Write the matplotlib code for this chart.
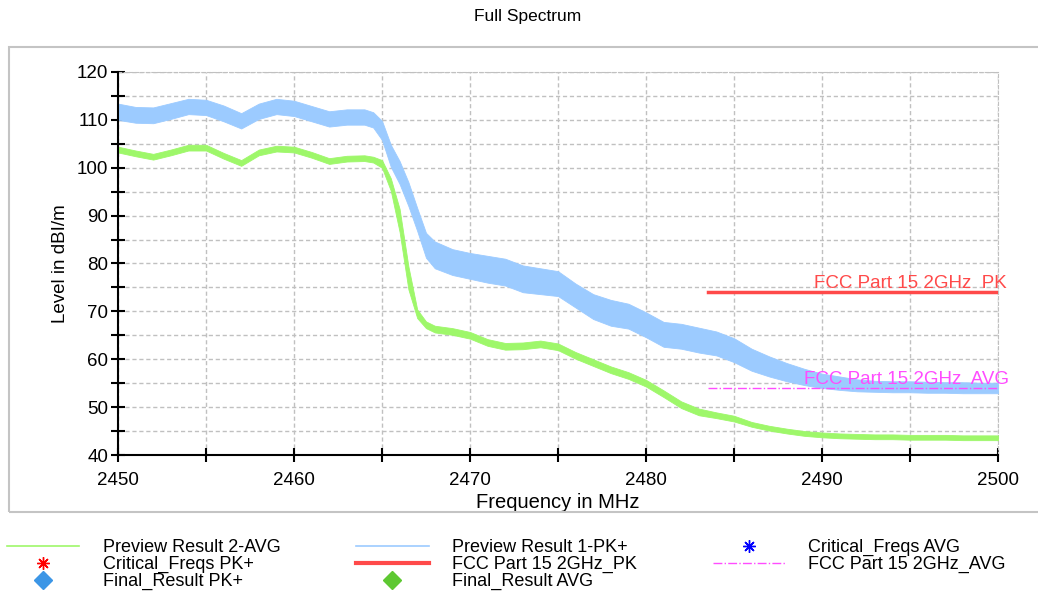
import matplotlib
matplotlib.use("Agg")
import matplotlib.pyplot as plt
from matplotlib.lines import Line2D
from matplotlib.patches import Rectangle

plt.rcParams['font.family'] = ['Liberation Sans', 'DejaVu Sans']

# frequenze (MHz)
freq = [2450, 2451, 2452, 2453, 2454, 2455, 2456, 2457, 2458, 2459,
        2460, 2461, 2462, 2463, 2464, 2464.5, 2465, 2465.5, 2466, 2466.5,
        2467, 2467.5, 2468, 2469, 2470, 2471, 2472, 2473, 2474, 2475,
        2476, 2477, 2478, 2479, 2480, 2481, 2482, 2483, 2484, 2485,
        2486, 2487, 2488, 2489, 2490, 2491, 2492, 2493, 2494, 2495,
        2496, 2497, 2498, 2499, 2500]

# Preview Result 1-PK+ : bordo inferiore / superiore della traccia
pk_low = [110.0, 109.4, 109.3, 110.2, 111.2, 111.0, 109.7, 108.2, 110.2, 111.2,
          110.8, 109.7, 108.6, 109.0, 109.0, 108.4, 105.8, 100.2, 96.6, 92.0,
          86.8, 81.2, 79.0, 77.6, 76.8, 76.0, 75.4, 74.0, 73.6, 73.2,
          70.8, 68.4, 67.0, 66.4, 64.6, 62.6, 62.2, 61.4, 60.8, 59.4,
          57.6, 56.4, 55.4, 54.6, 54.0, 53.6, 53.3, 53.2, 53.1, 53.1,
          53.0, 53.0, 52.9, 52.9, 52.9]
pk_high = [113.4, 112.7, 112.6, 113.5, 114.4, 114.2, 113.0, 111.4, 113.4, 114.4,
           114.0, 112.9, 111.8, 112.2, 112.2, 111.6, 109.8, 104.8, 101.4, 97.0,
           91.6, 86.4, 84.6, 83.0, 82.2, 81.6, 81.0, 79.6, 79.0, 78.4,
           75.8, 73.6, 72.4, 71.6, 69.8, 67.8, 67.4, 66.6, 65.8, 64.4,
           62.2, 60.6, 59.2, 58.0, 57.0, 56.4, 55.8, 55.5, 55.4, 55.4,
           55.3, 55.2, 55.2, 55.1, 55.1]

# Preview Result 2-AVG : bordo inferiore / superiore della traccia
avg_low = [103.2, 102.4, 101.7, 102.6, 103.6, 103.6, 101.9, 100.4, 102.6, 103.4,
           103.2, 102.1, 100.8, 101.3, 101.4, 101.1, 100.0, 95.2, 86.6, 74.6,
           68.6, 66.5, 65.6, 65.1, 64.3, 62.8, 62.0, 62.1, 62.5, 61.9,
           60.1, 58.6, 57.1, 55.9, 54.3, 52.1, 49.8, 48.3, 47.7, 47.0,
           45.9, 45.1, 44.5, 44.0, 43.7, 43.5, 43.4, 43.3, 43.3, 43.2,
           43.2, 43.2, 43.1, 43.1, 43.1]
avg_high = [104.4, 103.6, 102.9, 103.8, 104.8, 104.8, 103.1, 101.6, 103.8, 104.6,
            104.4, 103.3, 102.0, 102.5, 102.6, 102.3, 101.6, 97.8, 91.4, 79.4,
            70.4, 67.9, 67.0, 66.5, 65.7, 64.2, 63.4, 63.5, 63.9, 63.3,
            61.5, 60.0, 58.5, 57.3, 55.7, 53.5, 51.2, 49.7, 48.9, 48.2,
            46.9, 46.1, 45.5, 45.0, 44.7, 44.5, 44.4, 44.3, 44.3, 44.2,
            44.2, 44.2, 44.1, 44.1, 44.1]

# linee limite FCC
lim_freq = [2483.5, 2500]
lim_pk = [74, 74]
lim_avg = [54, 54]

blu = '#9ccbff'
verde = '#9ef76a'
rosso = '#ff4a4a'
magenta = '#ff4cff'

fig = plt.figure(figsize=(10.38, 5.95), dpi=100)
ax = fig.add_axes([118 / 1038, 1 - 455 / 595, 880 / 1038, 383 / 595])

# cornice grigia esterna
fig.patches.append(Rectangle((9 / 1038, 1 - 512 / 595), 1.2, 465 / 595,
                             transform=fig.transFigure, fill=False,
                             edgecolor='#c4c4c4', linewidth=1.5))

ax.fill_between(freq, pk_low, pk_high, color=blu, linewidth=0.6, edgecolor=blu, zorder=3)
ax.fill_between(freq, avg_low, avg_high, color=verde, linewidth=0.6, edgecolor=verde, zorder=4)
ax.plot(lim_freq, lim_pk, color=rosso, linewidth=2.5, zorder=5)
ax.plot(lim_freq, lim_avg, color=magenta, linewidth=1.0, linestyle='-.', zorder=5)
ax.text(2500.5, lim_pk[0] + 0.1, 'FCC Part 15 2GHz  PK', color=rosso,
        ha='right', va='bottom', fontsize=13.5, zorder=6)
ax.text(2500.6, lim_avg[0] - 0.1, 'FCC Part 15 2GHz  AVG', color=magenta,
        ha='right', va='bottom', fontsize=13.5, zorder=6)

ax.set_xlim(2450, 2500)
ax.set_ylim(40, 120)
ax.set_xticks(range(2450, 2501, 10))
ax.set_xticks(range(2455, 2500, 10), minor=True)
ax.set_yticks(range(40, 121, 10))
ax.set_yticks(range(45, 120, 10), minor=True)
ax.grid(True, which='both', color='#c0c0c0', linestyle=(0, (3, 2)), linewidth=1.0, zorder=1)
ax.set_axisbelow(True)

for lato in ['top', 'right']:
    ax.spines[lato].set_color('#c0c0c0')
    ax.spines[lato].set_linestyle((0, (3, 2)))
for lato in ['left', 'bottom']:
    ax.spines[lato].set_linewidth(1.5)
    ax.spines[lato].set_zorder(6)
ax.tick_params(which='both', direction='inout', length=10, width=1.5, labelsize=13.5)
ax.tick_params(axis='y', pad=2)
ax.tick_params(axis='x', pad=7)
ax.set_xlabel('Frequency in MHz', fontsize=14.5, labelpad=3)
ax.set_ylabel('Level in dBI/m', fontsize=13.5, labelpad=6)
fig.text(0.508, 1 - 17 / 595, 'Full Spectrum', ha='center', va='center', fontsize=12.5)

# legenda (ordine per colonne)
voci = [
    Line2D([], [], color=verde, linewidth=1.2),
    Line2D([], [], color='red', marker=(8, 2, 0), markersize=9, linestyle='none'),
    Line2D([], [], color='#3c96e6', marker='D', markersize=9, linestyle='none'),
    Line2D([], [], color=blu, linewidth=1.2),
    Line2D([], [], color=rosso, linewidth=3),
    Line2D([], [], color='#5ec832', marker='D', markersize=9, linestyle='none'),
    Line2D([], [], color='blue', marker=(8, 2, 0), markersize=9, linestyle='none'),
    Line2D([], [], color=magenta, linewidth=1.0, linestyle='-.'),
]
etichette = ['Preview Result 2-AVG', 'Critical_Freqs PK+', 'Final_Result PK+',
             'Preview Result 1-PK+', 'FCC Part 15 2GHz_PK', 'Final_Result AVG',
             'Critical_Freqs AVG', 'FCC Part 15 2GHz_AVG']
fig.legend(voci, etichette, ncol=3, loc='upper left',
           bbox_to_anchor=(7 / 1038, 1 - 539 / 595), frameon=False,
           fontsize=13, handlelength=4.0, handletextpad=1.3,
           columnspacing=4.2, labelspacing=0.0, borderpad=0, borderaxespad=0)

fig.savefig('out.png', dpi=100)
